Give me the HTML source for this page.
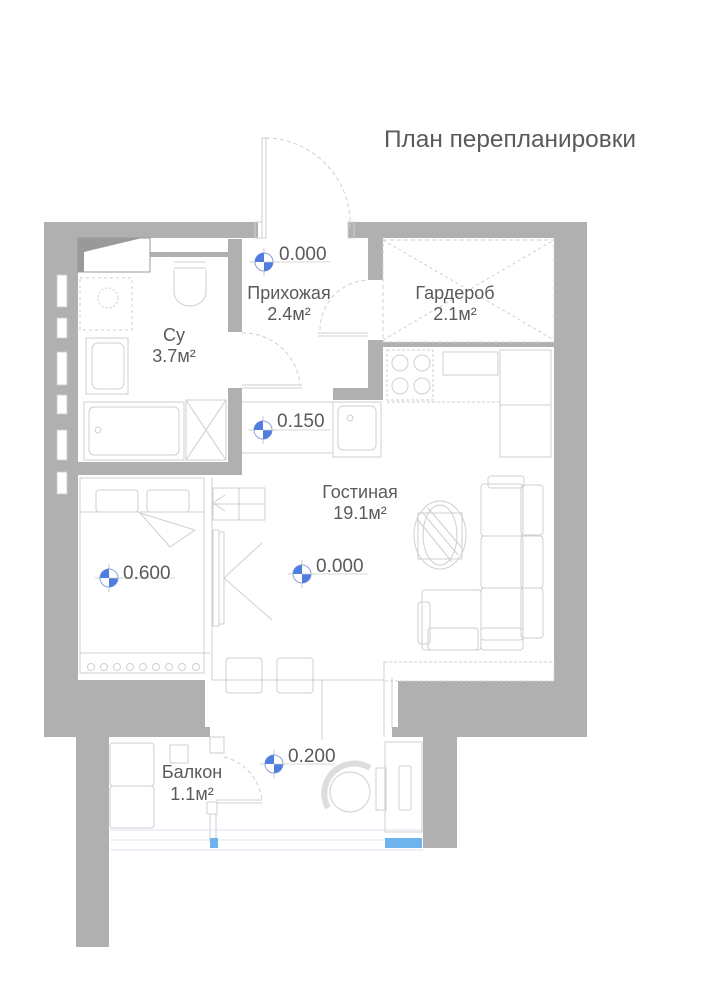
<!DOCTYPE html>
<html><head><meta charset="utf-8"><style>
html,body{margin:0;padding:0;background:#fff;}
svg{display:block;}
text{font-family:"Liberation Sans",sans-serif;fill:#5a5a5a;}
</style></head><body>
<svg width="728" height="1000" viewBox="0 0 728 1000" xmlns="http://www.w3.org/2000/svg">
<rect width="728" height="1000" fill="#fff"/>
<text x="384" y="147" font-size="24" fill="#666" textLength="252" lengthAdjust="spacingAndGlyphs">План перепланировки</text>

<g fill="#b0b0b0">
 <rect x="44" y="222" width="34" height="515"/>
 <rect x="44" y="222" width="214" height="16"/>
 <rect x="348" y="222" width="239" height="16"/>
 <rect x="554" y="222" width="33" height="515"/>
 <rect x="44" y="680" width="161" height="57"/>
 <rect x="398" y="681" width="189" height="56"/>
 <rect x="392" y="727" width="8" height="10"/>
 <rect x="205" y="727" width="5" height="10"/>
 <rect x="76" y="737" width="33" height="210"/>
 <rect x="423" y="737" width="34" height="111"/>
 <rect x="228" y="239" width="14" height="93"/>
 <rect x="228" y="388" width="14" height="87"/>
 <rect x="78" y="462" width="164" height="13"/>
 <rect x="368" y="238" width="15" height="42"/>
 <rect x="368" y="340" width="15" height="60"/>
 <rect x="333" y="388" width="50" height="12"/>
 <rect x="383" y="342" width="171" height="5"/>
 <rect x="150" y="252" width="78" height="5"/>
</g>
<polygon points="78,238 150,238 150,272 78,272" fill="#fff" stroke="#999" stroke-width="1"/>
<polygon points="78,238 142,238 84,252 84,272 78,272" fill="#999"/>
<g fill="#fff" stroke="#ccc" stroke-width="0.8">
 <rect x="57" y="275" width="10" height="32"/>
 <rect x="57" y="318" width="10" height="20"/>
 <rect x="57" y="352" width="10" height="33"/>
 <rect x="57" y="395" width="10" height="19"/>
 <rect x="57" y="430" width="10" height="30"/>
 <rect x="57" y="472" width="10" height="22"/>
</g>

<g fill="none" stroke="#cfcfcf" stroke-width="1">
 <rect x="262" y="138" width="4" height="100"/>
 <path d="M266 138 A86 86 0 0 1 350 230" stroke-dasharray="4 3"/>
 <rect x="255" y="222" width="7" height="16"/>
 <rect x="348" y="222" width="6" height="16"/>
 <rect x="383" y="240" width="171" height="102" stroke-dasharray="4 3"/>
 <path d="M383 240 L554 340 M383 340 L554 240" stroke-dasharray="3 3"/>
 <path d="M318 333 L368 333 M318 336 L368 336"/>
 <path d="M320 330 A50 50 0 0 1 368 280" stroke-dasharray="4 3"/>
 <path d="M242 333 A57 57 0 0 1 300 385" stroke-dasharray="4 3"/>
 <path d="M242 385 L302 385 M242 388 L302 388"/>
 <path d="M174 262 L206 262 M174 268 L206 268"/>
 <path d="M174 270 L174 292 A16 14 0 0 0 206 292 L206 270"/>
 <rect x="80" y="278" width="52" height="52" stroke-dasharray="3 3"/>
 <circle cx="108" cy="298" r="10" stroke-dasharray="2 2"/>
 <rect x="86" y="338" width="42" height="56"/>
 <rect x="92" y="343" width="32" height="46" rx="6"/>
 <rect x="84" y="402" width="100" height="58"/>
 <rect x="89" y="407" width="90" height="48" rx="5"/>
 <circle cx="98" cy="430" r="3"/>
 <rect x="186" y="400" width="40" height="60"/>
 <path d="M186 400 L226 460 M226 400 L186 460"/>
 <rect x="387" y="350" width="46" height="50" stroke-dasharray="3 2"/>
 <circle cx="400" cy="363" r="8"/><circle cx="422" cy="363" r="8"/>
 <circle cx="400" cy="386" r="8"/><circle cx="422" cy="386" r="8"/>
 <rect x="443" y="352" width="55" height="23"/>
 <rect x="500" y="350" width="51" height="55"/>
 <rect x="500" y="405" width="51" height="52"/>
 <path d="M387 402 L500 402" stroke-dasharray="3 2"/>
 <rect x="333" y="402" width="48" height="55"/>
 <rect x="338" y="406" width="38" height="44" rx="5"/>
 <circle cx="350" cy="418" r="3"/>
 <path d="M242 402 L333 402 M242 453 L333 453"/>
 <rect x="80" y="478" width="124" height="195"/>
 <path d="M80 512 L204 512"/>
 <rect x="96" y="490" width="42" height="22" rx="3"/>
 <rect x="147" y="490" width="42" height="22" rx="3"/>
 <path d="M140 513 L195 530 L170 547 Z"/>
 <path d="M80 653 L210 653"/>
 <g>
  <circle cx="91" cy="667" r="3.5"/><circle cx="104" cy="667" r="3.5"/><circle cx="117" cy="667" r="3.5"/>
  <circle cx="130" cy="667" r="3.5"/><circle cx="143" cy="667" r="3.5"/><circle cx="156" cy="667" r="3.5"/>
  <circle cx="169" cy="667" r="3.5"/><circle cx="182" cy="667" r="3.5"/><circle cx="196" cy="667" r="3.5"/>
 </g>
 <path d="M212 478 L212 680"/>
 <rect x="213" y="488" width="52" height="32"/>
 <path d="M239 488 L239 520 M213 504 L265 504"/>
 <path d="M213 503 L225 495 M213 503 L225 511"/>
 <rect x="213" y="530" width="6" height="96"/>
 <rect x="219" y="532" width="5" height="92"/>
 <path d="M224 578 L262 543 M224 578 L272 620"/>
 <ellipse cx="440" cy="535" rx="26" ry="34"/>
 <ellipse cx="440" cy="535" rx="17" ry="30"/>
 <rect x="418" y="513" width="44" height="46"/>
 <path d="M422 512 L458 555 M428 508 L462 548 M418 520 L452 562"/>
 <rect x="481" y="484" width="42" height="52" rx="3"/>
 <rect x="521" y="485" width="22" height="50" rx="3"/>
 <rect x="481" y="536" width="42" height="52" rx="3"/>
 <rect x="521" y="536" width="22" height="52" rx="3"/>
 <rect x="481" y="588" width="42" height="52" rx="3"/>
 <rect x="521" y="588" width="22" height="50" rx="3"/>
 <rect x="422" y="590" width="59" height="60" rx="3"/>
 <rect x="418" y="602" width="12" height="42" rx="3"/>
 <rect x="428" y="628" width="50" height="22" rx="3"/>
 <rect x="481" y="628" width="42" height="22" rx="3"/>
 <rect x="488" y="476" width="36" height="12" rx="3"/>
 <rect x="384" y="662" width="170" height="19" stroke-dasharray="3 2"/>
 <path d="M384 662 L384 737 M392 678 L392 727"/>
 <rect x="226" y="658" width="36" height="35" rx="3"/>
 <rect x="277" y="658" width="36" height="35" rx="3"/>
 <path d="M212 680 L384 680 M322 680 L322 740"/>
 <rect x="210" y="737" width="14" height="16"/>
 <path d="M224 757 A50 50 0 0 1 262 800" stroke-dasharray="4 3"/>
 <path d="M216 800 L262 800 M216 803 L262 803"/>
 <rect x="207" y="802" width="10" height="12"/>
 <rect x="210" y="814" width="6" height="28"/>
 <rect x="110" y="743" width="44" height="43" rx="3"/>
 <rect x="110" y="786" width="44" height="42" rx="3"/>
 <rect x="170" y="745" width="18" height="18"/>
 <path d="M110 830 L423 830 M110 840 L423 840 M110 850 L423 850" stroke="#d8e6f2"/>
 <circle cx="350" cy="792" r="20"/>
 <path d="M328 808 A30 30 0 0 1 370 768" stroke-width="6" stroke="#ddd"/>
 <rect x="376" y="768" width="10" height="42"/>
 <rect x="399" y="766" width="12" height="44" rx="2"/>
 <rect x="385" y="742" width="37" height="90"/>
</g>
<rect x="210" y="838" width="8" height="10" fill="#6fb3ec"/>
<rect x="385" y="838" width="37" height="10" fill="#6fb3ec"/>

<defs>
 <g id="mk">
  <line x1="-14" y1="0" x2="14" y2="0" stroke="#bbb" stroke-width="0.8"/>
  <line x1="0" y1="-14" x2="0" y2="14" stroke="#bbb" stroke-width="0.8"/>
  <circle r="9" fill="#fff" stroke="#8aa0d8" stroke-width="1"/>
  <path d="M0 0 L0 -9 A9 9 0 0 0 -9 0 Z" fill="#4f7ee0"/>
  <path d="M0 0 L0 9 A9 9 0 0 0 9 0 Z" fill="#4f7ee0"/>
 </g>
</defs>
<use href="#mk" x="264" y="262"/>
<use href="#mk" x="263" y="430"/>
<use href="#mk" x="109" y="578"/>
<use href="#mk" x="302" y="574"/>
<use href="#mk" x="274" y="764"/>
<g stroke="#ccc" stroke-width="0.8">
 <line x1="264" y1="262" x2="330" y2="262"/>
 <line x1="263" y1="430" x2="330" y2="430"/>
 <line x1="109" y1="578" x2="175" y2="578"/>
 <line x1="302" y1="574" x2="368" y2="574"/>
 <line x1="274" y1="764" x2="335" y2="764"/>
</g>

<g font-size="19" fill="#666">
 <text x="279" y="260">0.000</text>
 <text x="277" y="427">0.150</text>
 <text x="123" y="579">0.600</text>
 <text x="316" y="572">0.000</text>
 <text x="288" y="762">0.200</text>
</g>
<g font-size="18" text-anchor="middle">
 <text x="289" y="299">Прихожая</text>
 <text x="289" y="320">2.4м²</text>
 <text x="455" y="299">Гардероб</text>
 <text x="455" y="320">2.1м²</text>
 <text x="174" y="341">Су</text>
 <text x="174" y="362">3.7м²</text>
 <text x="360" y="498">Гостиная</text>
 <text x="360" y="519">19.1м²</text>
 <text x="192" y="778">Балкон</text>
 <text x="192" y="800">1.1м²</text>
</g>
</svg>
</body></html>
